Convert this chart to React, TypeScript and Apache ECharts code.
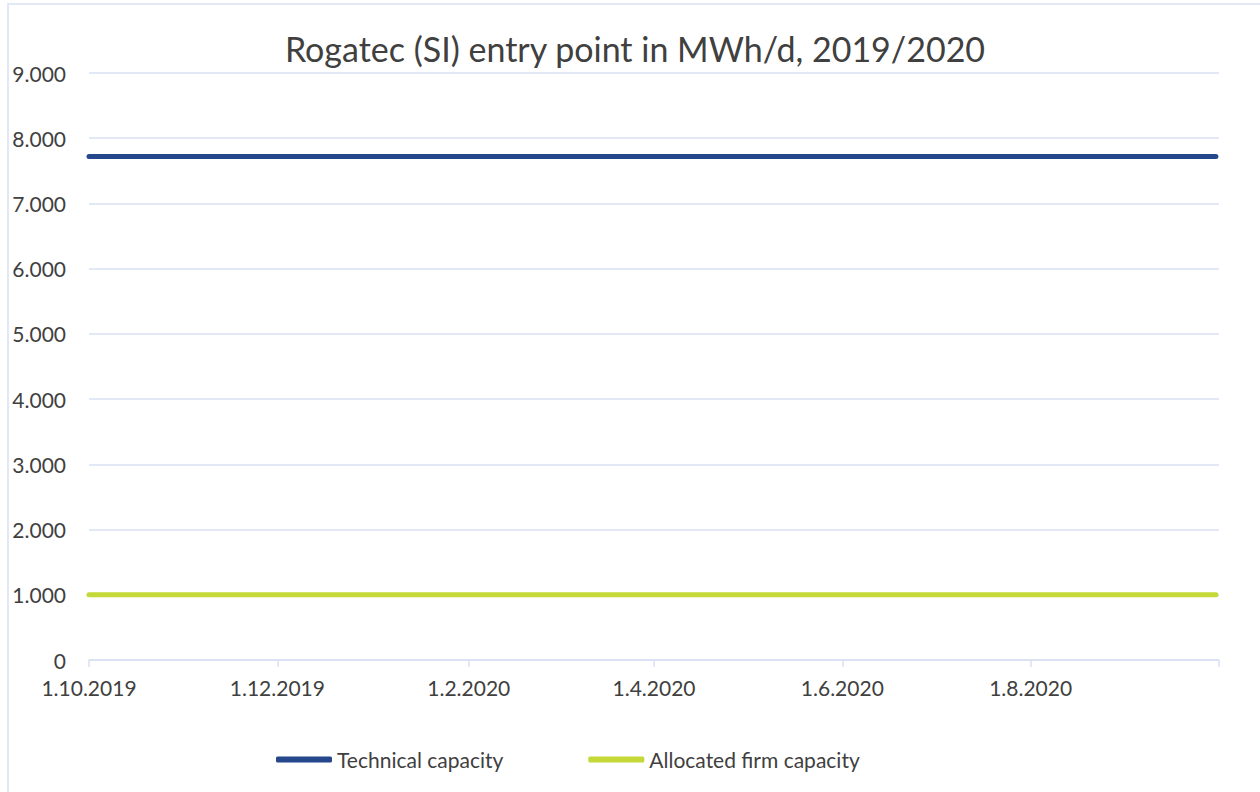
import React, { useEffect, useRef } from "react";
import * as echarts from "echarts";

const titleText = "Rogatec (SI) entry point in MWh/d, 2019/2020";
const seriesNames = ["Technical capacity", "Allocated firm capacity"];
const dates = ["2019-10-01", "2020-09-30"];
const technicalCapacity = [7720, 7720];
const allocatedFirmCapacity = [1000, 1000];
const axisStart = "2019-10-01";
const axisEnd = "2020-10-01";
const labelDates = ["2019-10-01", "2019-12-01", "2020-02-01", "2020-04-01", "2020-06-01", "2020-08-01"];
const tickDates = [...labelDates, "2020-10-01"];
const yMin = 0;
const yMax = 9000;
const yStep = 1000;

const ts = (s: string) => new Date(s + "T00:00:00Z").getTime();
const fmtDate = (v: number) => {
  const d = new Date(v);
  return `${d.getUTCDate()}.${d.getUTCMonth() + 1}.${d.getUTCFullYear()}`;
};
const fmtNum = (v: number) => {
  if (v === 0) return "0";
  const s = Math.round(v).toString();
  return s.replace(/\B(?=(\d{3})+(?!\d))/g, ".");
};

const FONT = "Lato";
const TEXT = "#404040";
const GRID = "#D9E1F2";

export default function App() {
  const ref = useRef<HTMLDivElement>(null);
  useEffect(() => {
    document.body.style.margin = "0";
    const chart = echarts.init(ref.current!, null, { renderer: "svg" });
    chart.setOption({
      animation: false,
      backgroundColor: "#ffffff",
      textStyle: { fontFamily: FONT },
      graphic: [
        {
          type: "rect",
          shape: { x: 8, y: 4, width: 1400, height: 1000 },
          style: { fill: "none", stroke: GRID, lineWidth: 1.5 },
          silent: true,
          z: -10,
        },
        {
          type: "text",
          style: {
            text: titleText,
            x: 635,
            y: 48,
            textAlign: "center",
            textVerticalAlign: "middle",
            font: `34px ${FONT}`,
            fill: TEXT,
          },
        },
      ],
      grid: { left: 89, right: 41, top: 73, bottom: 132, containLabel: false },
      legend: {
        left: 276,
        top: 749,
        padding: 0,
        icon: "roundRect",
        itemWidth: 56,
        itemHeight: 6,
        itemGap: 85,
        textStyle: { fontFamily: FONT, fontSize: 21, color: TEXT },
        data: seriesNames,
      },
      xAxis: {
        type: "value",
        min: ts(axisStart),
        max: ts(axisEnd),
        axisLine: { show: true, lineStyle: { color: GRID, width: 1.5 } },
        axisTick: {
          show: true,
          length: 7,
          lineStyle: { color: GRID, width: 1.5 },
          customValues: tickDates.map(ts),
        },
        axisLabel: {
          customValues: labelDates.map(ts),
          formatter: (v: number) => fmtDate(v),
          fontFamily: FONT,
          fontSize: 21,
          color: TEXT,
          margin: 17,
        },
        splitLine: { show: false },
      },
      yAxis: {
        type: "value",
        min: yMin,
        max: yMax,
        interval: yStep,
        axisLine: { show: false },
        axisTick: { show: false },
        axisLabel: {
          formatter: (v: number) => fmtNum(v),
          fontFamily: FONT,
          fontSize: 21,
          color: TEXT,
          margin: 23,
        },
        splitLine: { show: true, lineStyle: { color: GRID, width: 1.5 } },
      },
      series: [
        {
          name: seriesNames[0],
          type: "line",
          symbol: "none",
          data: dates.map((d, i) => [ts(d), technicalCapacity[i]]),
          lineStyle: { color: "#24488B", width: 5, cap: "round" },
          itemStyle: { color: "#24488B" },
        },
        {
          name: seriesNames[1],
          type: "line",
          symbol: "none",
          data: dates.map((d, i) => [ts(d), allocatedFirmCapacity[i]]),
          lineStyle: { color: "#C4D837", width: 5, cap: "round" },
          itemStyle: { color: "#C4D837" },
        },
      ],
    });
    return () => chart.dispose();
  }, []);
  return <div ref={ref} style={{ width: 1260, height: 792 }} />;
}
